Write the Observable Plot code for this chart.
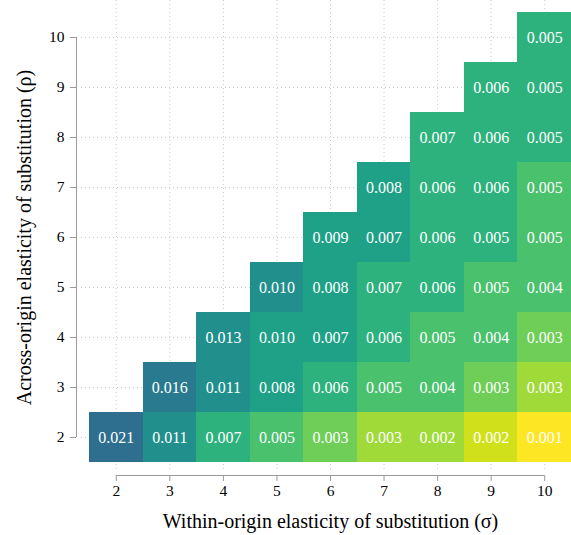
<!DOCTYPE html>
<html>
<head>
<meta charset="utf-8">
<script src="https://cdn.jsdelivr.net/npm/d3@7"></script>
<script src="https://cdn.jsdelivr.net/npm/@observablehq/plot@0.6"></script>
<style>
  html, body { margin: 0; padding: 0; background: white; }
  svg text { font-family: "Liberation Serif", "Times New Roman", serif; }
  svg g[aria-label*="axis"] text { font-size: 15.5px !important; }
</style>
</head>
<body>
<div id="chart"></div>
<script>
// Within-origin elasticity (σ) and across-origin elasticity (ρ)
const sigmaValues = [2, 3, 4, 5, 6, 7, 8, 9, 10];
const rhoValues = [2, 3, 4, 5, 6, 7, 8, 9, 10];

// Values by row of ρ, listed for σ = ρ … 10
const rho2 = [0.021, 0.011, 0.0068, 0.0048, 0.0032, 0.0028, 0.0022, 0.0018, 0.0012];
const rho3 = [0.016, 0.011, 0.008, 0.006, 0.0048, 0.004, 0.0032, 0.0028];
const rho4 = [0.013, 0.0098, 0.0072, 0.006, 0.0048, 0.004, 0.0032];
const rho5 = [0.0102, 0.008, 0.0068, 0.006, 0.0048, 0.004];
const rho6 = [0.009, 0.0072, 0.006, 0.0052, 0.0048];
const rho7 = [0.008, 0.006, 0.006, 0.0048];
const rho8 = [0.0068, 0.006, 0.0052];
const rho9 = [0.006, 0.0052];
const rho10 = [0.0052];

// Colour bins (thresholds ascending) and colours
const binThresholds = [0.0015, 0.002, 0.003, 0.0035, 0.005, 0.007, 0.010, 0.014, 0.018];
const binColors = ["#fde725", "#d0e11c", "#a0da39", "#6ece58", "#4ac16d", "#2db27d", "#1fa187", "#21908d", "#297a8e", "#2e6e8e"];

const xTitle = "Within-origin elasticity of substitution (σ)";
const yTitle = "Across-origin elasticity of substitution (ρ)";

const rows = [rho2, rho3, rho4, rho5, rho6, rho7, rho8, rho9, rho10];
const data = [];
rows.forEach((vals, i) => {
  const rho = rhoValues[i];
  vals.forEach((v, j) => {
    data.push({sigma: sigmaValues[i + j], rho, value: v});
  });
});

const fmt = d3.format(".3f");
const gridColor = "#c9c9c9";
const axisColor = "#9a9a9a";
const serif = "Liberation Serif";

const chart = Plot.plot({
  width: 571,
  height: 535,
  marginLeft: 89,
  marginRight: 0,
  marginTop: 12,
  marginBottom: 73,
  style: {fontFamily: serif, fontSize: "14px", background: "white", color: "black"},
  x: {type: "linear", domain: [1.5, 10.5], label: null},
  y: {type: "linear", domain: [1.5, 10.5], label: null},
  color: {type: "threshold", domain: binThresholds, range: binColors},
  marks: [
    Plot.ruleX(sigmaValues, {stroke: gridColor, strokeDasharray: "1,3", insetTop: -12, insetBottom: -8}),
    Plot.ruleY(rhoValues, {stroke: gridColor, strokeDasharray: "1,3", insetLeft: -8}),
    Plot.rect(data, {
      x1: d => d.sigma - 0.5, x2: d => d.sigma + 0.5,
      y1: d => d.rho - 0.5, y2: d => d.rho + 0.5,
      fill: "value", shapeRendering: "crispEdges"
    }),
    Plot.text(data, {x: "sigma", y: "rho", text: d => fmt(d.value), fill: "white", fontSize: 16, fontFamily: serif}),
    Plot.axisX(sigmaValues, {anchor: "bottom", tickSize: 6, tickPadding: 3, dy: 13, fontSize: 15.5, fontFamily: serif, stroke: axisColor, fill: "black", label: null, tickFormat: d => String(d)}),
    Plot.axisY(rhoValues, {anchor: "left", tickSize: 6, tickPadding: 6, dx: -13, fontSize: 15.5, fontFamily: serif, stroke: axisColor, fill: "black", label: null, tickFormat: d => String(d)}),
    Plot.ruleY([1.5], {x1: sigmaValues[0], x2: sigmaValues[sigmaValues.length - 1], dy: 13, stroke: axisColor}),
    Plot.ruleX([1.5], {y1: rhoValues[0], y2: rhoValues[rhoValues.length - 1], dx: -13, stroke: axisColor}),
    Plot.text([xTitle], {frameAnchor: "bottom", dy: 59, fontSize: 20, fontFamily: serif, lineAnchor: "middle", textAnchor: "middle", fill: "black"}),
    Plot.text([yTitle], {frameAnchor: "left", dx: -65, rotate: -90, fontSize: 20, fontFamily: serif, lineAnchor: "middle", textAnchor: "middle", fill: "black"})
  ]
});
document.getElementById("chart").appendChild(chart);
</script>
</body>
</html>
